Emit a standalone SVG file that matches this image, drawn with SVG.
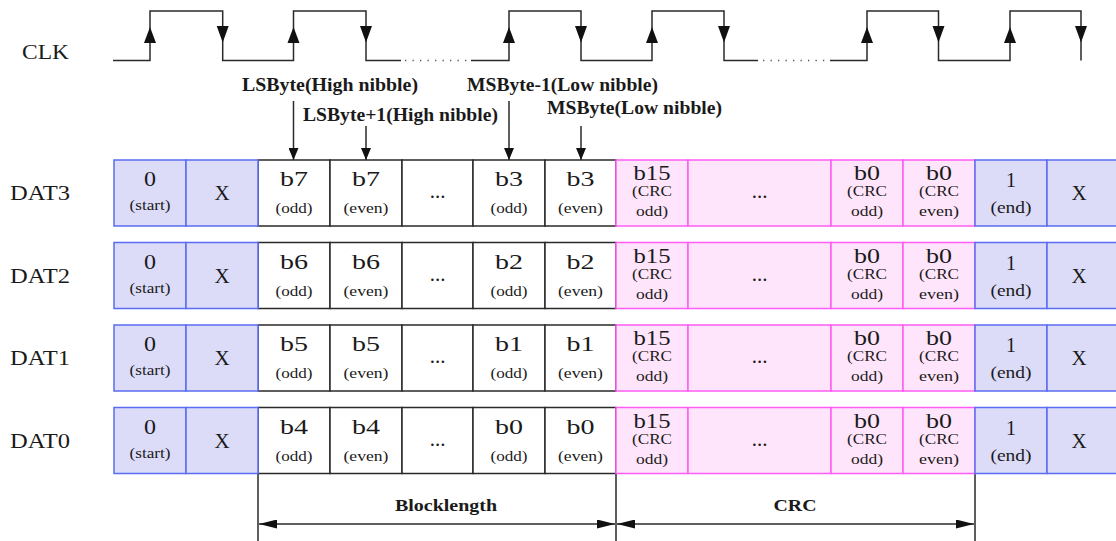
<svg xmlns="http://www.w3.org/2000/svg" width="1116" height="541" viewBox="0 0 1116 541">
<style>
text{font-family:"Liberation Serif","Times New Roman",serif;fill:#1a1a1a}
.big{font-size:21px;text-anchor:middle}
.sm{font-size:15px;text-anchor:middle}
.md{font-size:17px;text-anchor:middle}
.nm{font-size:20px}
.bd{font-size:18px;font-weight:bold}
.bdc{font-size:17px;font-weight:bold;text-anchor:middle}
.w{fill:#ffffff;stroke:#2a2a2a;stroke-width:1.5}
.b{fill:#dcdcf9;stroke:#5a6cf2;stroke-width:1.5}
.p{fill:#ffe5fb;stroke:#ff5cf5;stroke-width:1.5}
.ln{fill:none;stroke:#2a2a2a;stroke-width:1.5}
.dot{fill:none;stroke:#555;stroke-width:1.3;stroke-dasharray:1.3 6.2}
.ah{fill:#111}
</style>
<defs>
<marker id="arr" viewBox="0 0 12 10" refX="12" refY="5" markerWidth="12" markerHeight="10" markerUnits="userSpaceOnUse" orient="auto"><path d="M0,0 L12,5 L0,10 Z" fill="#111"/></marker>
<marker id="arr2" viewBox="0 0 18 9" refX="18" refY="4.5" markerWidth="18" markerHeight="9" markerUnits="userSpaceOnUse" orient="auto-start-reverse"><path d="M0,0 L18,4.5 L0,9 Z" fill="#111"/></marker>
</defs>

<g id="clk">
<text class="nm" x="22" y="59" textLength="47" lengthAdjust="spacingAndGlyphs">CLK</text>
<path class="ln" d="M113,60.5 H150 V11 H222.7 V60.5 H293.5 V11 H366 V60.5 H401"/>
<path class="dot" d="M405,60.5 H468"/>
<path class="ln" d="M471,60.5 H509 V11 H581 V60.5 H652 V11 H724 V60.5 H758"/>
<path class="dot" d="M763,60.5 H827"/>
<path class="ln" d="M830,60.5 H867 V11 H938.5 V60.5 H1010 V11 H1081 V60.5"/>
<path class="ah" d="M144,43 L150,27 L156,43 Z M216.7,26 L222.7,42.5 L228.7,26 Z M287.5,43 L293.5,27 L299.5,43 Z M360,26 L366,42.5 L372,26 Z M503,43 L509,27 L515,43 Z M575,26 L581,42.5 L587,26 Z M646,43 L652,27 L658,43 Z M718,26 L724,42.5 L730,26 Z M861,43 L867,27 L873,43 Z M932.5,26 L938.5,42.5 L944.5,26 Z M1004,43 L1010,27 L1016,43 Z M1075,26 L1081,42.5 L1087,26 Z"/>
</g>

<g id="labels">
<text class="bd" x="242" y="91" textLength="176" lengthAdjust="spacingAndGlyphs">LSByte(High nibble)</text>
<text class="bd" x="303" y="121" textLength="195" lengthAdjust="spacingAndGlyphs">LSByte+1(High nibble)</text>
<text class="bd" x="467" y="91" textLength="191" lengthAdjust="spacingAndGlyphs">MSByte-1(Low nibble)</text>
<text class="bd" x="547" y="114" textLength="175" lengthAdjust="spacingAndGlyphs">MSByte(Low nibble)</text>
</g>

<g id="connectors">
<path class="ln" d="M293.5,101 V160" marker-end="url(#arr)"/>
<path class="ln" d="M366,126 V160" marker-end="url(#arr)"/>
<path class="ln" d="M509,101 V160" marker-end="url(#arr)"/>
<path class="ln" d="M581,126 V160" marker-end="url(#arr)"/>
<path class="ln" d="M258,474 V541 M616,474 V541 M975,474 V541"/>
<path class="ln" d="M259,524 H615" marker-start="url(#arr2)" marker-end="url(#arr2)"/>
<path class="ln" d="M617,524 H974" marker-start="url(#arr2)" marker-end="url(#arr2)"/>
</g>

<g id="dims">
<text class="bdc" x="446" y="511" textLength="102" lengthAdjust="spacingAndGlyphs">Blocklength</text>
<text class="bdc" x="795" y="511" textLength="43" lengthAdjust="spacingAndGlyphs">CRC</text>
</g>

<g id="dat3" transform="translate(0,160)">
<text class="nm" x="10" y="40" textLength="60" lengthAdjust="spacingAndGlyphs">DAT3</text>
<rect class="w" x="258" y="0" width="72" height="66"/><rect class="w" x="330" y="0" width="72" height="66"/><rect class="w" x="402" y="0" width="71" height="66"/><rect class="w" x="473" y="0" width="72" height="66"/><rect class="w" x="545" y="0" width="71" height="66"/>
<rect class="b" x="114" y="0" width="72" height="66"/><rect class="b" x="186" y="0" width="72" height="66"/>
<rect class="p" x="616" y="0" width="72" height="66"/><rect class="p" x="688" y="0" width="143" height="66"/><rect class="p" x="831" y="0" width="72" height="66"/><rect class="p" x="903" y="0" width="72" height="66"/>
<rect class="b" x="975" y="0" width="72" height="66"/><rect class="b" x="1047" y="0" width="72" height="66"/>
<text class="big" x="150" y="26" textLength="12" lengthAdjust="spacingAndGlyphs">0</text><text class="sm" x="150" y="50" textLength="41" lengthAdjust="spacingAndGlyphs">(start)</text>
<text class="big" x="222" y="40">X</text>
<text class="big" x="294" y="26" textLength="28" lengthAdjust="spacingAndGlyphs">b7</text><text class="sm" x="294" y="53" textLength="37" lengthAdjust="spacingAndGlyphs">(odd)</text>
<text class="big" x="366" y="26" textLength="28" lengthAdjust="spacingAndGlyphs">b7</text><text class="sm" x="366" y="53" textLength="45" lengthAdjust="spacingAndGlyphs">(even)</text>
<text class="big" x="437.5" y="38">...</text>
<text class="big" x="509" y="26" textLength="28" lengthAdjust="spacingAndGlyphs">b3</text><text class="sm" x="509" y="53" textLength="37" lengthAdjust="spacingAndGlyphs">(odd)</text>
<text class="big" x="580.5" y="26" textLength="28" lengthAdjust="spacingAndGlyphs">b3</text><text class="sm" x="580.5" y="53" textLength="45" lengthAdjust="spacingAndGlyphs">(even)</text>
<text class="big" x="652" y="20" textLength="37" lengthAdjust="spacingAndGlyphs">b15</text><text class="sm" x="652" y="36" textLength="40" lengthAdjust="spacingAndGlyphs">(CRC</text><text class="sm" x="652" y="56" textLength="32" lengthAdjust="spacingAndGlyphs">odd)</text>
<text class="big" x="759.5" y="38">...</text>
<text class="big" x="867" y="20" textLength="26" lengthAdjust="spacingAndGlyphs">b0</text><text class="sm" x="867" y="36" textLength="40" lengthAdjust="spacingAndGlyphs">(CRC</text><text class="sm" x="867" y="56" textLength="32" lengthAdjust="spacingAndGlyphs">odd)</text>
<text class="big" x="939" y="20" textLength="26" lengthAdjust="spacingAndGlyphs">b0</text><text class="sm" x="939" y="36" textLength="40" lengthAdjust="spacingAndGlyphs">(CRC</text><text class="sm" x="939" y="56" textLength="40" lengthAdjust="spacingAndGlyphs">even)</text>
<text class="big" x="1011" y="27" textLength="10" lengthAdjust="spacingAndGlyphs">1</text><text class="md" x="1011" y="53" textLength="41" lengthAdjust="spacingAndGlyphs">(end)</text>
<text class="big" x="1079" y="40">X</text>
</g>

<g id="dat2" transform="translate(0,242.5)">
<text class="nm" x="10" y="40" textLength="60" lengthAdjust="spacingAndGlyphs">DAT2</text>
<rect class="w" x="258" y="0" width="72" height="66"/><rect class="w" x="330" y="0" width="72" height="66"/><rect class="w" x="402" y="0" width="71" height="66"/><rect class="w" x="473" y="0" width="72" height="66"/><rect class="w" x="545" y="0" width="71" height="66"/>
<rect class="b" x="114" y="0" width="72" height="66"/><rect class="b" x="186" y="0" width="72" height="66"/>
<rect class="p" x="616" y="0" width="72" height="66"/><rect class="p" x="688" y="0" width="143" height="66"/><rect class="p" x="831" y="0" width="72" height="66"/><rect class="p" x="903" y="0" width="72" height="66"/>
<rect class="b" x="975" y="0" width="72" height="66"/><rect class="b" x="1047" y="0" width="72" height="66"/>
<text class="big" x="150" y="26" textLength="12" lengthAdjust="spacingAndGlyphs">0</text><text class="sm" x="150" y="50" textLength="41" lengthAdjust="spacingAndGlyphs">(start)</text>
<text class="big" x="222" y="40">X</text>
<text class="big" x="294" y="26" textLength="28" lengthAdjust="spacingAndGlyphs">b6</text><text class="sm" x="294" y="53" textLength="37" lengthAdjust="spacingAndGlyphs">(odd)</text>
<text class="big" x="366" y="26" textLength="28" lengthAdjust="spacingAndGlyphs">b6</text><text class="sm" x="366" y="53" textLength="45" lengthAdjust="spacingAndGlyphs">(even)</text>
<text class="big" x="437.5" y="38">...</text>
<text class="big" x="509" y="26" textLength="28" lengthAdjust="spacingAndGlyphs">b2</text><text class="sm" x="509" y="53" textLength="37" lengthAdjust="spacingAndGlyphs">(odd)</text>
<text class="big" x="580.5" y="26" textLength="28" lengthAdjust="spacingAndGlyphs">b2</text><text class="sm" x="580.5" y="53" textLength="45" lengthAdjust="spacingAndGlyphs">(even)</text>
<text class="big" x="652" y="20" textLength="37" lengthAdjust="spacingAndGlyphs">b15</text><text class="sm" x="652" y="36" textLength="40" lengthAdjust="spacingAndGlyphs">(CRC</text><text class="sm" x="652" y="56" textLength="32" lengthAdjust="spacingAndGlyphs">odd)</text>
<text class="big" x="759.5" y="38">...</text>
<text class="big" x="867" y="20" textLength="26" lengthAdjust="spacingAndGlyphs">b0</text><text class="sm" x="867" y="36" textLength="40" lengthAdjust="spacingAndGlyphs">(CRC</text><text class="sm" x="867" y="56" textLength="32" lengthAdjust="spacingAndGlyphs">odd)</text>
<text class="big" x="939" y="20" textLength="26" lengthAdjust="spacingAndGlyphs">b0</text><text class="sm" x="939" y="36" textLength="40" lengthAdjust="spacingAndGlyphs">(CRC</text><text class="sm" x="939" y="56" textLength="40" lengthAdjust="spacingAndGlyphs">even)</text>
<text class="big" x="1011" y="27" textLength="10" lengthAdjust="spacingAndGlyphs">1</text><text class="md" x="1011" y="53" textLength="41" lengthAdjust="spacingAndGlyphs">(end)</text>
<text class="big" x="1079" y="40">X</text>
</g>

<g id="dat1" transform="translate(0,325)">
<text class="nm" x="10" y="40" textLength="60" lengthAdjust="spacingAndGlyphs">DAT1</text>
<rect class="w" x="258" y="0" width="72" height="66"/><rect class="w" x="330" y="0" width="72" height="66"/><rect class="w" x="402" y="0" width="71" height="66"/><rect class="w" x="473" y="0" width="72" height="66"/><rect class="w" x="545" y="0" width="71" height="66"/>
<rect class="b" x="114" y="0" width="72" height="66"/><rect class="b" x="186" y="0" width="72" height="66"/>
<rect class="p" x="616" y="0" width="72" height="66"/><rect class="p" x="688" y="0" width="143" height="66"/><rect class="p" x="831" y="0" width="72" height="66"/><rect class="p" x="903" y="0" width="72" height="66"/>
<rect class="b" x="975" y="0" width="72" height="66"/><rect class="b" x="1047" y="0" width="72" height="66"/>
<text class="big" x="150" y="26" textLength="12" lengthAdjust="spacingAndGlyphs">0</text><text class="sm" x="150" y="50" textLength="41" lengthAdjust="spacingAndGlyphs">(start)</text>
<text class="big" x="222" y="40">X</text>
<text class="big" x="294" y="26" textLength="28" lengthAdjust="spacingAndGlyphs">b5</text><text class="sm" x="294" y="53" textLength="37" lengthAdjust="spacingAndGlyphs">(odd)</text>
<text class="big" x="366" y="26" textLength="28" lengthAdjust="spacingAndGlyphs">b5</text><text class="sm" x="366" y="53" textLength="45" lengthAdjust="spacingAndGlyphs">(even)</text>
<text class="big" x="437.5" y="38">...</text>
<text class="big" x="509" y="26" textLength="28" lengthAdjust="spacingAndGlyphs">b1</text><text class="sm" x="509" y="53" textLength="37" lengthAdjust="spacingAndGlyphs">(odd)</text>
<text class="big" x="580.5" y="26" textLength="28" lengthAdjust="spacingAndGlyphs">b1</text><text class="sm" x="580.5" y="53" textLength="45" lengthAdjust="spacingAndGlyphs">(even)</text>
<text class="big" x="652" y="20" textLength="37" lengthAdjust="spacingAndGlyphs">b15</text><text class="sm" x="652" y="36" textLength="40" lengthAdjust="spacingAndGlyphs">(CRC</text><text class="sm" x="652" y="56" textLength="32" lengthAdjust="spacingAndGlyphs">odd)</text>
<text class="big" x="759.5" y="38">...</text>
<text class="big" x="867" y="20" textLength="26" lengthAdjust="spacingAndGlyphs">b0</text><text class="sm" x="867" y="36" textLength="40" lengthAdjust="spacingAndGlyphs">(CRC</text><text class="sm" x="867" y="56" textLength="32" lengthAdjust="spacingAndGlyphs">odd)</text>
<text class="big" x="939" y="20" textLength="26" lengthAdjust="spacingAndGlyphs">b0</text><text class="sm" x="939" y="36" textLength="40" lengthAdjust="spacingAndGlyphs">(CRC</text><text class="sm" x="939" y="56" textLength="40" lengthAdjust="spacingAndGlyphs">even)</text>
<text class="big" x="1011" y="27" textLength="10" lengthAdjust="spacingAndGlyphs">1</text><text class="md" x="1011" y="53" textLength="41" lengthAdjust="spacingAndGlyphs">(end)</text>
<text class="big" x="1079" y="40">X</text>
</g>

<g id="dat0" transform="translate(0,407.5)">
<text class="nm" x="10" y="40" textLength="60" lengthAdjust="spacingAndGlyphs">DAT0</text>
<rect class="w" x="258" y="0" width="72" height="66"/><rect class="w" x="330" y="0" width="72" height="66"/><rect class="w" x="402" y="0" width="71" height="66"/><rect class="w" x="473" y="0" width="72" height="66"/><rect class="w" x="545" y="0" width="71" height="66"/>
<rect class="b" x="114" y="0" width="72" height="66"/><rect class="b" x="186" y="0" width="72" height="66"/>
<rect class="p" x="616" y="0" width="72" height="66"/><rect class="p" x="688" y="0" width="143" height="66"/><rect class="p" x="831" y="0" width="72" height="66"/><rect class="p" x="903" y="0" width="72" height="66"/>
<rect class="b" x="975" y="0" width="72" height="66"/><rect class="b" x="1047" y="0" width="72" height="66"/>
<text class="big" x="150" y="26" textLength="12" lengthAdjust="spacingAndGlyphs">0</text><text class="sm" x="150" y="50" textLength="41" lengthAdjust="spacingAndGlyphs">(start)</text>
<text class="big" x="222" y="40">X</text>
<text class="big" x="294" y="26" textLength="28" lengthAdjust="spacingAndGlyphs">b4</text><text class="sm" x="294" y="53" textLength="37" lengthAdjust="spacingAndGlyphs">(odd)</text>
<text class="big" x="366" y="26" textLength="28" lengthAdjust="spacingAndGlyphs">b4</text><text class="sm" x="366" y="53" textLength="45" lengthAdjust="spacingAndGlyphs">(even)</text>
<text class="big" x="437.5" y="38">...</text>
<text class="big" x="509" y="26" textLength="28" lengthAdjust="spacingAndGlyphs">b0</text><text class="sm" x="509" y="53" textLength="37" lengthAdjust="spacingAndGlyphs">(odd)</text>
<text class="big" x="580.5" y="26" textLength="28" lengthAdjust="spacingAndGlyphs">b0</text><text class="sm" x="580.5" y="53" textLength="45" lengthAdjust="spacingAndGlyphs">(even)</text>
<text class="big" x="652" y="20" textLength="37" lengthAdjust="spacingAndGlyphs">b15</text><text class="sm" x="652" y="36" textLength="40" lengthAdjust="spacingAndGlyphs">(CRC</text><text class="sm" x="652" y="56" textLength="32" lengthAdjust="spacingAndGlyphs">odd)</text>
<text class="big" x="759.5" y="38">...</text>
<text class="big" x="867" y="20" textLength="26" lengthAdjust="spacingAndGlyphs">b0</text><text class="sm" x="867" y="36" textLength="40" lengthAdjust="spacingAndGlyphs">(CRC</text><text class="sm" x="867" y="56" textLength="32" lengthAdjust="spacingAndGlyphs">odd)</text>
<text class="big" x="939" y="20" textLength="26" lengthAdjust="spacingAndGlyphs">b0</text><text class="sm" x="939" y="36" textLength="40" lengthAdjust="spacingAndGlyphs">(CRC</text><text class="sm" x="939" y="56" textLength="40" lengthAdjust="spacingAndGlyphs">even)</text>
<text class="big" x="1011" y="27" textLength="10" lengthAdjust="spacingAndGlyphs">1</text><text class="md" x="1011" y="53" textLength="41" lengthAdjust="spacingAndGlyphs">(end)</text>
<text class="big" x="1079" y="40">X</text>
</g>
</svg>
